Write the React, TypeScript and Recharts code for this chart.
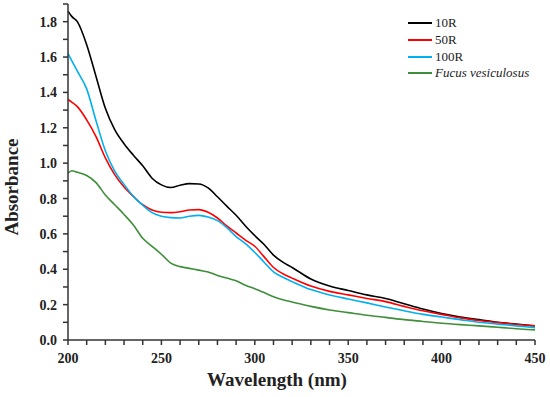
import { LineChart, Line, XAxis, YAxis } from "recharts";

const WAVELENGTH = [
  200, 202, 205, 210, 215, 220, 225, 230, 235, 240, 245, 250, 255, 260, 265, 270, 275, 280, 285, 290,
  295, 300, 305, 310, 315, 320, 330, 340, 350, 360, 370, 380, 390, 400, 410, 420, 430, 440, 450,
];

const R10 = [
  1.86, 1.83, 1.8, 1.67, 1.49, 1.31, 1.19, 1.11, 1.045, 0.985, 0.915, 0.877, 0.862, 0.875, 0.884, 0.882,
  0.86, 0.81, 0.757, 0.705, 0.645, 0.59, 0.54, 0.48, 0.44, 0.41, 0.345, 0.305, 0.28, 0.255, 0.235, 0.205,
  0.175, 0.15, 0.13, 0.115, 0.1, 0.09, 0.08,
];

const R50 = [
  1.36, 1.345, 1.32, 1.245, 1.15, 1.03, 0.935, 0.865, 0.812, 0.765, 0.735, 0.722, 0.72, 0.725, 0.735,
  0.737, 0.722, 0.69, 0.645, 0.605, 0.565, 0.53, 0.47, 0.41, 0.375, 0.35, 0.305, 0.275, 0.255, 0.235,
  0.217, 0.19, 0.165, 0.145, 0.125, 0.11, 0.098, 0.088, 0.08,
];

const R100 = [
  1.62, 1.58, 1.52, 1.42, 1.24, 1.07, 0.955, 0.88, 0.812, 0.762, 0.72, 0.7, 0.692, 0.69, 0.7, 0.705,
  0.695, 0.675, 0.635, 0.585, 0.545, 0.495, 0.44, 0.385, 0.355, 0.33, 0.285, 0.255, 0.232, 0.21, 0.187,
  0.165, 0.145, 0.13, 0.115, 0.1, 0.09, 0.08, 0.07,
];

const FUCUS = [
  0.944, 0.957, 0.948, 0.93, 0.89, 0.82, 0.765, 0.71, 0.65, 0.575, 0.53, 0.485, 0.435, 0.415, 0.405,
  0.395, 0.385, 0.365, 0.35, 0.335, 0.31, 0.29, 0.268, 0.245, 0.228, 0.215, 0.19, 0.17, 0.155, 0.14,
  0.128, 0.115, 0.105, 0.095, 0.087, 0.08, 0.072, 0.064, 0.057,
];

const X_TICKS = [
  200, 210, 220, 230, 240, 250, 260, 270, 280, 290, 300, 310, 320, 330, 340, 350, 360, 370, 380, 390,
  400, 410, 420, 430, 440, 450,
];
const Y_TICKS = [0, 0.1, 0.2, 0.3, 0.4, 0.5, 0.6, 0.7, 0.8, 0.9, 1, 1.1, 1.2, 1.3, 1.4, 1.5, 1.6, 1.7, 1.8, 1.9];

const SERIES = [
  { key: "r10", name: "10R", color: "#000000", italic: false },
  { key: "r50", name: "50R", color: "#ff0000", italic: false },
  { key: "r100", name: "100R", color: "#00b0f0", italic: false },
  { key: "fucus", name: "Fucus vesiculosus", color: "#3f8f3a", italic: true },
];

const data = WAVELENGTH.map((wl, i) => ({
  wl,
  r10: R10[i],
  r50: R50[i],
  r100: R100[i],
  fucus: FUCUS[i],
}));

const FONT = '"Liberation Serif", "Times New Roman", serif';
const AXIS = "#333333";

function XTick({ x, y, payload }: any) {
  if (payload.value % 50 !== 0) return null;
  return (
    <text x={x} y={y + 16} textAnchor="middle" fontFamily={FONT} fontWeight="bold" fontSize={14} fill="#222">
      {payload.value}
    </text>
  );
}

function YTick({ x, y, payload }: any) {
  if (Math.round(payload.value * 10) % 2 !== 0) return null;
  return (
    <text x={x - 4} y={y + 5} textAnchor="end" fontFamily={FONT} fontWeight="bold" fontSize={14} fill="#222">
      {payload.value.toFixed(1)}
    </text>
  );
}

// legend drawn as an overlay so it doesn't shrink the plot area
function LegendBox() {
  return (
    <div style={{ position: "absolute", left: 408, top: 15, fontFamily: FONT, fontSize: 13, color: "#222" }}>
      {SERIES.map((s) => (
        <div key={s.key} style={{ display: "flex", alignItems: "center", height: 16.7 }}>
          <span style={{ display: "inline-block", width: 24, height: 2, background: s.color, marginRight: 3 }} />
          <span style={{ fontStyle: s.italic ? "italic" : "normal" }}>{s.name}</span>
        </div>
      ))}
    </div>
  );
}

export default function App() {
  return (
    <div style={{ position: "absolute", left: 0, top: 0, width: 550, height: 397, background: "#fff" }}>
      <LineChart width={550} height={397} data={data} margin={{ top: 4, right: 15, left: 8, bottom: 0 }}>
        <XAxis
          dataKey="wl"
          type="number"
          domain={[200, 450]}
          ticks={X_TICKS}
          interval={0}
          height={57}
          stroke={AXIS}
          strokeWidth={1.5}
          tickSize={5}
          tick={<XTick />}
          label={{
            content: () => (
              <text x={277} y={386} textAnchor="middle" fontFamily={FONT} fontWeight="bold" fontSize={19} fill="#222">
                Wavelength (nm)
              </text>
            ),
          }}
        />
        <YAxis
          type="number"
          domain={[0, 1.9]}
          ticks={Y_TICKS}
          interval={0}
          width={60}
          stroke={AXIS}
          strokeWidth={1.5}
          tickSize={5}
          tick={<YTick />}
          label={{
            content: () => (
              <text
                x={18}
                y={187}
                transform="rotate(-90 18 187)"
                textAnchor="middle"
                fontFamily={FONT}
                fontWeight="bold"
                fontSize={19}
                fill="#222"
              >
                Absorbance
              </text>
            ),
          }}
        />
        {SERIES.map((s) => (
          <Line
            key={s.key}
            dataKey={s.key}
            name={s.name}
            stroke={s.color}
            strokeWidth={1.6}
            dot={false}
            type="monotone"
            isAnimationActive={false}
          />
        ))}
      </LineChart>
      <LegendBox />
    </div>
  );
}
